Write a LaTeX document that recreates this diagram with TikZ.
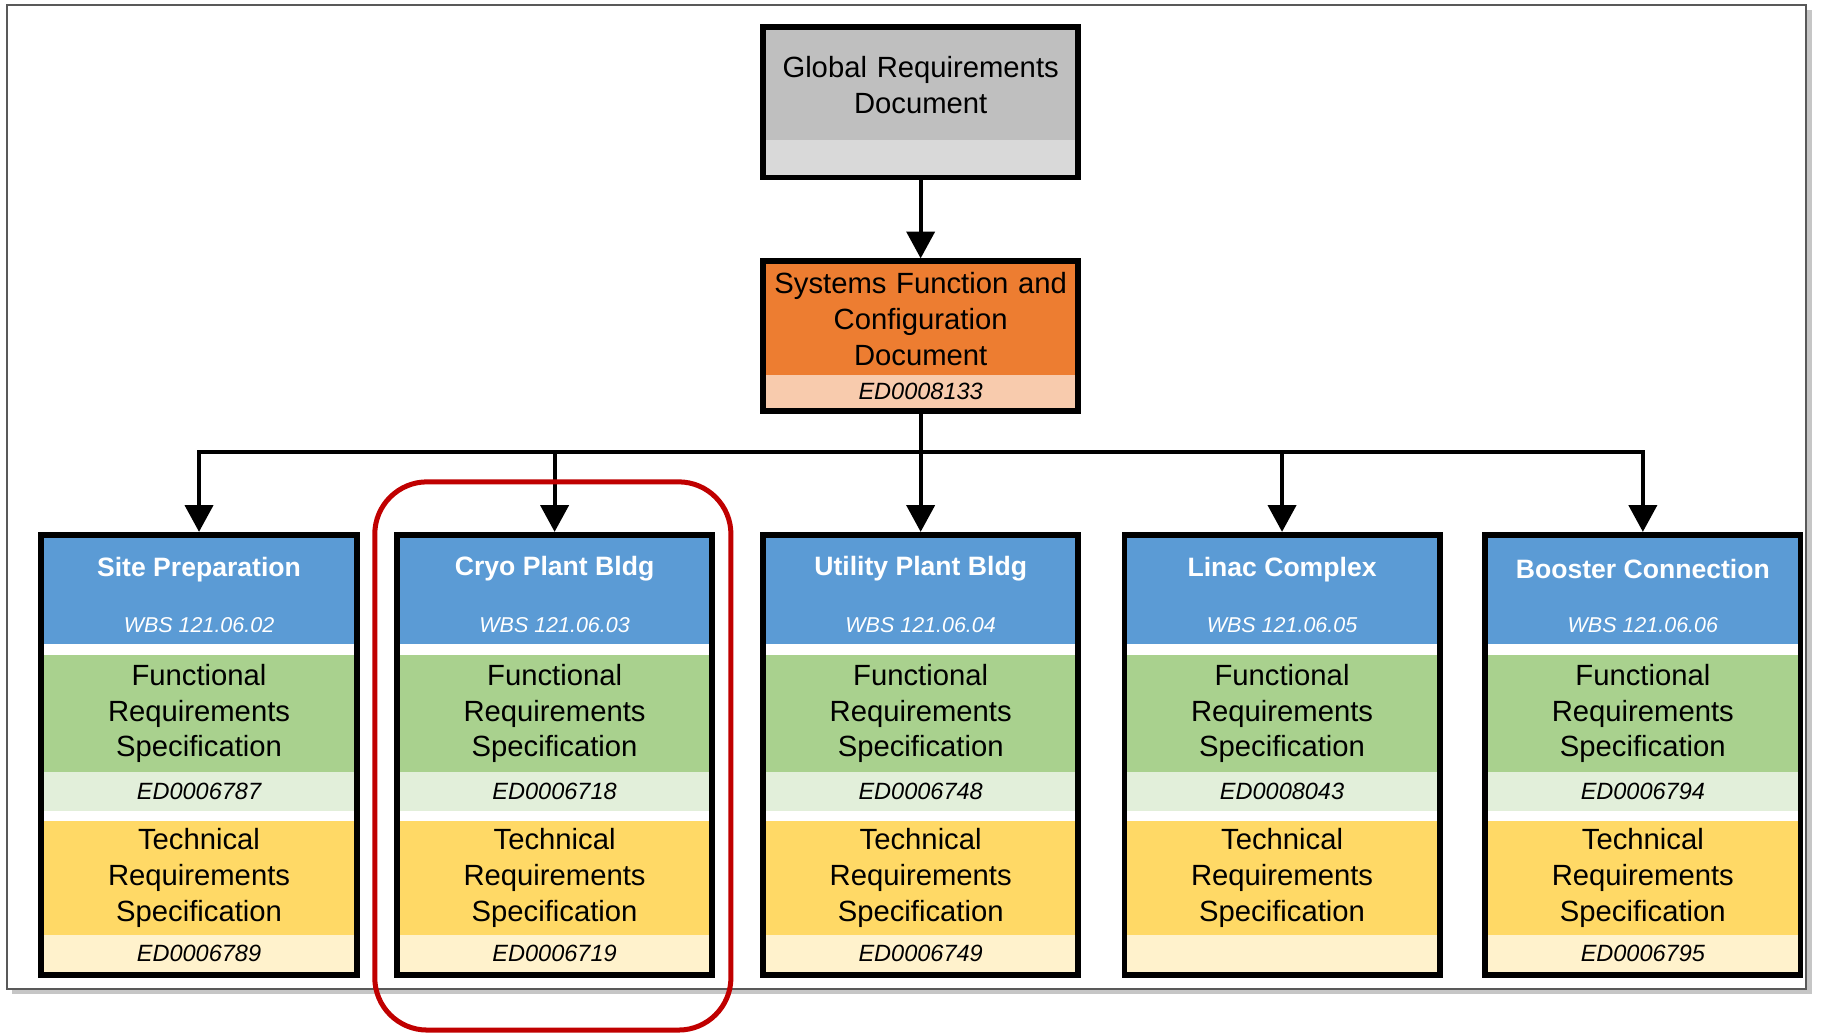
\documentclass[tikz,border=0pt]{standalone}
\usepackage{fontspec}
\setmainfont{Liberation Sans}
\usetikzlibrary{arrows.meta,positioning,shadows}
\definecolor{grdgray}{HTML}{BFBFBF}
\definecolor{grdlight}{HTML}{D9D9D9}
\definecolor{sfcorange}{HTML}{ED7D31}
\definecolor{sfclight}{HTML}{F8CBAD}
\definecolor{wbsblue}{HTML}{5B9BD5}
\definecolor{frsgreen}{HTML}{A9D18E}
\definecolor{frslight}{HTML}{E2EFDA}
\definecolor{trsyellow}{HTML}{FFD966}
\definecolor{trslight}{HTML}{FFF2CC}
\definecolor{markred}{HTML}{C00000}
\newcommand{\bodyfont}{\fontsize{14.3}{17.6}\selectfont}
\newcommand{\numfont}{\itshape\fontsize{11.5}{13}\selectfont}

\begin{document}
\begin{tikzpicture}[x=0.02cm,y=-0.02cm,
  docframe/.style={draw=black,line width=2.8pt,minimum width=5.42cm,inner sep=0pt},
  band/.style={minimum width=5.32cm,inner sep=0pt,outer sep=0pt,text width=5.2cm,align=center},
  link/.style={line width=2pt,-{Triangle[width=0.48cm,length=0.46cm]}}]
\useasboundingbox (0,0) rectangle (1568,888);
\draw[draw=black!65,line width=0.9pt,fill=white,drop shadow={shadow xshift=2.5pt,shadow yshift=-2.5pt,opacity=0.45}] (6,4) rectangle (1552,850);
% global requirements document
\node[band,fill=grdgray,minimum height=1.88cm,anchor=north,font=\bodyfont] (grd-top) at (791,26) {Global Requirements\\Document};
\node[band,fill=grdlight,minimum height=0.6cm,below=0pt of grd-top] (grd-num) {};
\node[docframe,minimum height=2.58cm,anchor=north] (grd) at (791,21) {};
% systems function and configuration document
\node[band,fill=sfcorange,minimum height=1.9cm,anchor=north,font=\bodyfont] (sfcd-top) at (791,227) {Systems Function and\\Configuration\\Document};
\node[band,fill=sfclight,minimum height=0.58cm,below=0pt of sfcd-top,font=\numfont] (sfcd-num) {ED0008133};
\node[docframe,minimum height=2.58cm,anchor=north] (sfcd) at (791,222) {};
% one column per WBS element
\foreach \cx/\id/\ttl/\wbs/\frs/\trs in {171/site/Site Preparation/02/ED0006787/ED0006789,
    476.5/cryo/Cryo Plant Bldg/03/ED0006718/ED0006719,
    791/util/Utility Plant Bldg/04/ED0006748/ED0006749,
    1101.5/linac/Linac Complex/05/ED0008043/{},
    1411.5/boost/Booster Connection/06/ED0006794/ED0006795}{
  \node[band,fill=wbsblue,minimum height=1.82cm,anchor=north] (\id-head) at (\cx,462) {};
  \node[font=\bfseries\fontsize{13}{15}\selectfont,text=white] (\id-title) at (\cx,489) {\ttl};
  \node[font=\itshape\fontsize{10.5}{12}\selectfont,text=white] (\id-wbs) at (\cx,537) {WBS 121.06.\wbs};
  \node[band,fill=frsgreen,minimum height=2cm,below=0.2cm of \id-head,font=\bodyfont] (\id-frs) {Functional\\Requirements\\Specification};
  \node[band,fill=frslight,minimum height=0.68cm,below=0pt of \id-frs,font=\numfont] (\id-frsnum) {\frs};
  \node[band,fill=trsyellow,minimum height=1.96cm,below=0.16cm of \id-frsnum,font=\bodyfont] (\id-trs) {Technical\\Requirements\\Specification};
  \node[band,fill=trslight,minimum height=0.66cm,below=0pt of \id-trs,font=\numfont] (\id-trsnum) {\trs};
  \node[docframe,minimum height=7.56cm,anchor=north] (\id) at (\cx,457) {};
}
% connectors
\draw[link] (grd) -- (sfcd);
\coordinate (bus) at (791,388);
\draw[line width=2pt] (sfcd.south) -- (bus);
\foreach \id in {site,cryo,util,linac,boost}
  \draw[link] (bus) -| (\id.north);
% highlight
\draw[markred,line width=2.45pt,rounded corners=0.9cm] (322,414) rectangle (628,885);
\end{tikzpicture}
\end{document}
